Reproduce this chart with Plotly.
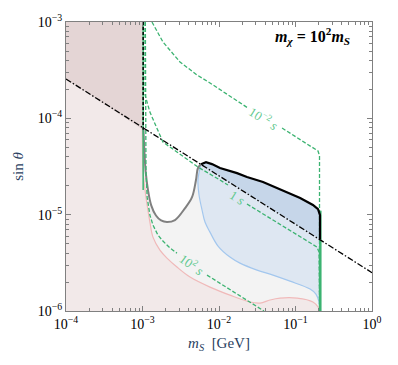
import numpy as np
import plotly.graph_objects as go

FONT = "Liberation Serif"
C_GREEN = "#3cb371"
C_GREEN_TXT = "#62c98f"
C_PINK_FILL = "#f2e9e9"
C_PINK_LINE = "#f0b9b9"
C_BROWN = "#e4d5d5"
C_GREY_FILL = "#f3f3f3"
C_GREY_LINE = "#808080"
C_BLUE_FILL = "#dee7f2"
C_BLUE_DARK = "#c6d6e9"
C_BLUE_LINE = "#a3c7ee"

# dash-dot line
dd_x = [1e-4, 1.0]
dd_y = [2.56e-4, 2.5e-6]

# grey boundary
grey_x = [1.03e-3, 1.06e-3, 1.10e-3, 1.18e-3, 1.30e-3, 1.50e-3, 1.75e-3, 2.09e-3, 2.66e-3, 3.60e-3, 4.44e-3, 5.0e-3, 5.31e-3, 5.82e-3]
grey_y = [7.56e-5, 4.5e-5, 2.8e-5, 1.80e-5, 1.25e-5, 9.8e-6, 8.7e-6, 8.38e-6, 8.79e-6, 1.17e-5, 1.52e-5, 2.29e-5, 3.05e-5, 3.34e-5]

# black upper boundary
blk_x = [5.82e-3, 6.76e-3, 8.09e-3, 1.03e-2, 1.72e-2, 2.32e-2, 3.76e-2, 6.27e-2, 0.115, 0.169, 0.197, 0.209, 0.209]
blk_y = [3.34e-5, 3.51e-5, 3.35e-5, 3.05e-5, 2.70e-5, 2.46e-5, 2.18e-5, 1.84e-5, 1.49e-5, 1.26e-5, 1.14e-5, 9.9e-6, 5.6e-6]

# blue lower boundary
blue_x = [5.82e-3, 5.31e-3, 5.48e-3, 6.0e-3, 6.56e-3, 7.62e-3, 9.71e-3, 1.39e-2, 1.88e-2, 3.14e-2, 5.08e-2, 8.48e-2, 0.155, 0.185, 0.203, 0.209]
blue_y = [3.34e-5, 2.29e-5, 1.60e-5, 1.12e-5, 8.38e-6, 6.59e-6, 4.72e-6, 3.63e-6, 3.14e-6, 2.66e-6, 2.36e-6, 2.04e-6, 1.69e-6, 1.50e-6, 1.24e-6, 1e-6]

# pink boundary
pink_x = [1.016e-3, 1.016e-3, 1.08e-3, 1.15e-3, 1.25e-3, 1.37e-3, 1.69e-3, 2.09e-3, 2.82e-3, 4.18e-3, 7.62e-3, 1.39e-2, 2.54e-2, 3.44e-2, 4.64e-2, 6.27e-2, 0.105, 0.169, 0.197, 0.209]
pink_y = [1e-3, 2.90e-5, 1.80e-5, 1.26e-5, 8.38e-6, 5.85e-6, 4.29e-6, 3.54e-6, 2.86e-6, 2.25e-6, 1.77e-6, 1.46e-6, 1.24e-6, 1.21e-6, 1.30e-6, 1.36e-6, 1.36e-6, 1.24e-6, 1.10e-6, 1e-6]

# lifetime contours (None = label gap)
t1_x = [1.33e-3, 1.55e-3, 1.85e-3, 3.09e-3, 5.15e-3, 7.62e-3, 2.39e-2, None, 6.67e-2, 0.175, 0.197, 0.206, 0.206]
t1_y = [1e-3, 7.87e-4, 6.2e-4, 3.85e-4, 2.82e-4, 2.33e-4, 1.28e-4, None, 7.93e-5, 4.92e-5, 4.58e-5, 4.07e-5, 1e-6]
t2_x = [1.08e-3, 1.08e-3, 1.25e-3, 1.55e-3, 1.85e-3, 2.82e-3, 5.31e-3, 1.03e-2, 1.31e-2, None, 2.32e-2, 0.191, 0.203, 0.206]
t2_y = [1e-3, 1.75e-4, 1.16e-4, 7.93e-5, 5.68e-5, 4.47e-5, 3.12e-5, 2.29e-5, 2.03e-5, None, 1.29e-5, 4.61e-6, 4.09e-6, 1e-6]
t3_x = [1.09e-3, 1.11e-3, 1.15e-3, 1.25e-3, 1.37e-3, 1.59e-3, 1.85e-3, 2.29e-3, 2.82e-3, None, 6.97e-3, 3.65e-2, 3.87e-2]
t3_y = [1e-3, 2.90e-5, 1.52e-5, 9.9e-6, 7.80e-6, 6.14e-6, 5.32e-6, 4.50e-6, 3.99e-6, None, 2.36e-6, 1.02e-6, 1e-6]

labels = ["10<sup>−2</sup> <i>s</i>", "1 <i>s</i>", "10<sup>2</sup> <i>s</i>"]
label_x = [3.87e-2, 1.72e-2, 4.44e-3]
label_y = [1.0e-4, 1.52e-5, 3.07e-6]
label_ang = [32, 32, 36]

x_ticks = [1e-4, 1e-3, 1e-2, 1e-1, 1]
x_text = ["10<sup>−4</sup>", "10<sup>−3</sup>", "10<sup>−2</sup>", "10<sup>−1</sup>", "10<sup>0</sup>"]
y_ticks = [1e-6, 1e-5, 1e-4, 1e-3]
y_text = ["10<sup>−6</sup>", "10<sup>−5</sup>", "10<sup>−4</sup>", "10<sup>−3</sup>"]

fig = go.Figure()

# grey region
fig.add_trace(go.Scatter(
    x=grey_x + blk_x[1:-1] + [0.209, 1.016e-3],
    y=grey_y + blk_y[1:-1] + [1e-6, 1e-6],
    fill="toself", fillcolor=C_GREY_FILL, line=dict(width=0), mode="lines",
    showlegend=False, hoverinfo="skip"
))

# pink region
fig.add_trace(go.Scatter(
    x=[1e-4] + pink_x + [1e-4],
    y=[1e-3] + pink_y + [1e-6],
    fill="toself", fillcolor=C_PINK_FILL, line=dict(width=0), mode="lines",
    showlegend=False, hoverinfo="skip"
))
fig.add_trace(go.Scatter(
    x=pink_x, y=pink_y, mode="lines", line=dict(color=C_PINK_LINE, width=1.2, shape="spline"),
    showlegend=False, hoverinfo="skip"
))

# brown region (above dash-dot, left of 1 MeV)
fig.add_trace(go.Scatter(
    x=[1e-4, 1e-4, 1.016e-3, 1.016e-3],
    y=[dd_y[0], 1e-3, 1e-3, 7.6e-5],
    fill="toself", fillcolor=C_BROWN, line=dict(width=0), mode="lines",
    showlegend=False, hoverinfo="skip"
))

# light blue region
fig.add_trace(go.Scatter(
    x=blue_x + blk_x[-2::-1],
    y=blue_y + blk_y[-2::-1],
    fill="toself", fillcolor=C_BLUE_FILL, line=dict(width=0), mode="lines",
    showlegend=False, hoverinfo="skip"
))
fig.add_trace(go.Scatter(
    x=blue_x, y=blue_y, mode="lines", line=dict(color=C_BLUE_LINE, width=1.2, shape="spline"),
    showlegend=False, hoverinfo="skip"
))

# dark blue region (between dash-dot and black)
fig.add_trace(go.Scatter(
    x=blk_x,
    y=blk_y,
    fill="toself", fillcolor=C_BLUE_DARK, line=dict(width=0), mode="lines",
    showlegend=False, hoverinfo="skip"
))

# grey line
fig.add_trace(go.Scatter(
    x=grey_x, y=grey_y, mode="lines", line=dict(color=C_GREY_LINE, width=2, shape="spline"),
    showlegend=False, hoverinfo="skip"
))

# green solid verticals
fig.add_trace(go.Scatter(
    x=[1.02e-3, 1.02e-3], y=[1e-3, 1.8e-5], mode="lines",
    line=dict(color=C_GREEN, width=1.5), showlegend=False, hoverinfo="skip"
))
fig.add_trace(go.Scatter(
    x=[0.211, 0.211], y=[1.1e-5, 1e-6], mode="lines",
    line=dict(color=C_GREEN, width=2.5), showlegend=False, hoverinfo="skip"
))

# black dashed vertical at 2 m_e
fig.add_trace(go.Scatter(
    x=[1.02e-3, 1.02e-3], y=[1e-3, 7.6e-5], mode="lines",
    line=dict(color="black", width=1.5, dash="3px,2px"), showlegend=False, hoverinfo="skip"
))

# lifetime contours
for cx, cy in [(t1_x, t1_y), (t2_x, t2_y), (t3_x, t3_y)]:
    fig.add_trace(go.Scatter(
        x=cx, y=cy, mode="lines", connectgaps=False,
        line=dict(color=C_GREEN, width=1.3, dash="4px,2px"),
        showlegend=False, hoverinfo="skip"
    ))

# black curve
fig.add_trace(go.Scatter(
    x=blk_x, y=blk_y, mode="lines", line=dict(color="black", width=2.2),
    showlegend=False, hoverinfo="skip"
))

# dash-dot
fig.add_trace(go.Scatter(
    x=dd_x, y=dd_y, mode="lines",
    line=dict(color="black", width=1.3, dash="6px,2px,1.5px,2px"),
    showlegend=False, hoverinfo="skip"
))

for t, lx, ly, a in zip(labels, label_x, label_y, label_ang):
    fig.add_annotation(
        x=np.log10(lx), y=np.log10(ly), text=t, showarrow=False, textangle=a,
        font=dict(family=FONT, size=13, color=C_GREEN_TXT)
    )

fig.add_annotation(
    x=0.935, y=0.95, xref="paper", yref="paper", xanchor="right", yanchor="middle",
    text="<b><i>m</i><sub><i>χ</i></sub> = 10<sup>2</sup><i>m</i><sub><i>S</i></sub></b>",
    showarrow=False, font=dict(family=FONT, size=16, color="black")
)

minor_x = [m * 10.0 ** e for e in range(-4, 0) for m in range(2, 10)]
minor_y = [m * 10.0 ** e for e in range(-6, -3) for m in range(2, 10)]

axis_common = dict(
    type="log", showgrid=False, zeroline=False, showline=True, linecolor="#808080", linewidth=1,
    mirror="allticks", ticks="inside", ticklen=5, tickcolor="#808080", automargin=False,
    tickfont=dict(family=FONT, size=14, color="black"),
)

fig.update_xaxes(
    **axis_common, range=[-4, 0], tickvals=x_ticks, ticktext=x_text,
    minor=dict(tickvals=minor_x, ticks="inside", ticklen=3, tickcolor="#808080"),
    title=dict(text="<i>m</i><sub><i>S</i></sub>  [GeV]", font=dict(family=FONT, size=15), standoff=6)
)
fig.update_yaxes(
    **axis_common, range=[-6, -3], tickvals=y_ticks, ticktext=y_text,
    minor=dict(tickvals=minor_y, ticks="inside", ticklen=3, tickcolor="#808080"),
    title=dict(text="sin <i>θ</i>", font=dict(family=FONT, size=15), standoff=10)
)

# page body adds an 8px offset, so the figure is drawn 8px smaller and shifted
fig.update_layout(
    width=390, height=357,
    plot_bgcolor="white", paper_bgcolor="white",
    margin=dict(l=58, r=26, t=14, b=54),
    showlegend=False
)

fig.write_html("out.html")
